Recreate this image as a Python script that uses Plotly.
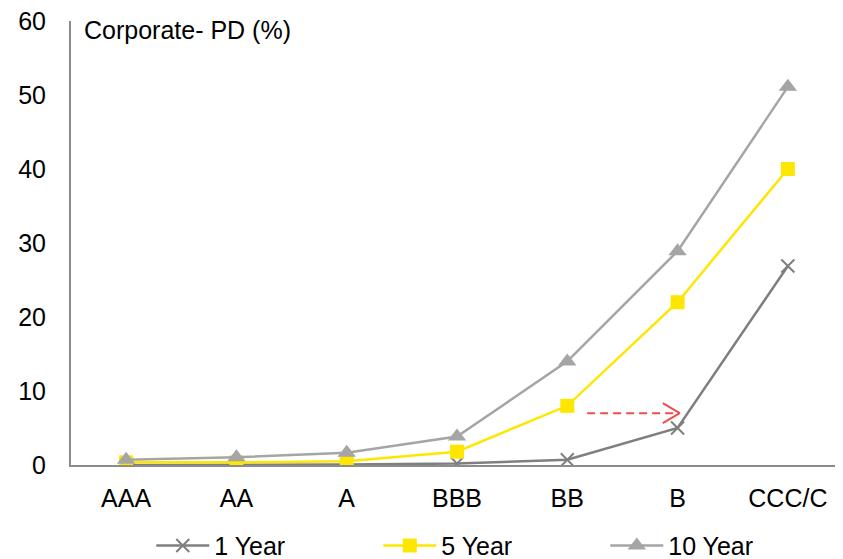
import plotly.graph_objects as go

categories = ["AAA", "AA", "A", "BBB", "BB", "B", "CCC/C"]
pd_1y = [0.0, 0.02, 0.06, 0.2, 0.7, 5.0, 26.9]
pd_5y = [0.36, 0.36, 0.5, 1.8, 8.0, 22.0, 40.0]
pd_10y = [0.7, 1.05, 1.65, 3.85, 14.0, 28.9, 51.1]
y_ticks = [0, 10, 20, 30, 40, 50, 60]

FONT = "Liberation Sans, Arial, sans-serif"
FS = 25

fig = go.Figure()
fig.add_trace(go.Scatter(
    x=categories, y=pd_1y, name="1 Year", mode="lines+markers",
    line=dict(color="#7f7f7f", width=2.5),
    marker=dict(symbol="x-thin-open", size=13, line=dict(color="#7f7f7f", width=2)),
))
fig.add_trace(go.Scatter(
    x=categories, y=pd_5y, name="5 Year", mode="lines+markers",
    line=dict(color="#FFE600", width=2.5),
    marker=dict(symbol="square", size=14, color="#FFE600"),
))
fig.add_trace(go.Scatter(
    x=categories, y=pd_10y, name="10 Year", mode="lines+markers",
    line=dict(color="#A5A5A5", width=2.5),
    marker=dict(symbol="triangle-up", size=16, color="#A5A5A5"),
))

# red dashed arrow from BB toward B at ~7%
arrow_y = 7.0
fig.add_shape(type="line", xref="x", yref="y", x0=4.18, x1=5.0, y0=arrow_y, y1=arrow_y,
              line=dict(color="#F04E4E", width=2, dash="8px,5px"))
for dy in (-10, 10):
    fig.add_shape(type="line", xref="x", yref="y",
                  xsizemode="pixel", xanchor=5.02, x0=-17, x1=0,
                  ysizemode="pixel", yanchor=arrow_y, y0=dy, y1=0,
                  line=dict(color="#F04E4E", width=2))

fig.add_annotation(text="Corporate- PD (%)", xref="paper", yref="paper",
                   x=0.014, y=1.015, xanchor="left", yanchor="top", showarrow=False,
                   font=dict(family=FONT, size=FS, color="#000000"))

fig.update_layout(
    width=835, height=551,
    margin=dict(l=63, r=0, t=13, b=94, autoexpand=False),
    paper_bgcolor="white", plot_bgcolor="white",
    font=dict(family=FONT, size=FS, color="#000000"),
    showlegend=True,
    legend=dict(orientation="h", x=0.104, xanchor="left", y=-0.13, yanchor="top",
                font=dict(family=FONT, size=FS, color="#000000"),
                itemwidth=53, entrywidth=159, entrywidthmode="pixels",
                traceorder="normal"),
    xaxis=dict(type="category", range=[-0.5, 6.5], showgrid=False, automargin=False,
               showline=True, linecolor="#8c8c8c", linewidth=2,
               ticks="", ticklabelstandoff=10, zeroline=False),
    yaxis=dict(range=[0, 60], tickvals=y_ticks, showgrid=False, automargin=False,
               showline=True, linecolor="#8c8c8c", linewidth=2,
               ticks="", ticklabelstandoff=18, zeroline=False,
               ticklabeloverflow="allow"),
)

fig.write_html("out.html")
